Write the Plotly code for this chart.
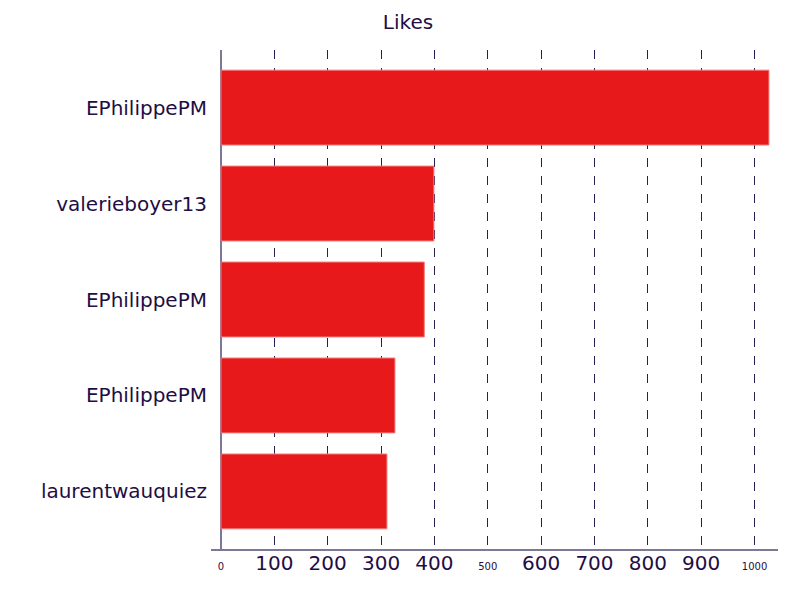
import plotly.graph_objects as go

names = ["EPhilippePM", "valerieboyer13", "EPhilippePM", "EPhilippePM", "laurentwauquiez"]
likes = [1027, 399, 381, 326, 311]
tick_values = [0, 100, 200, 300, 400, 500, 600, 700, 800, 900, 1000]
small_ticks = {0, 500, 1000}

positions = list(range(len(names)))
tick_text = [
    f"<span style='font-size:10px'>{v}</span>" if v in small_ticks else str(v)
    for v in tick_values
]

text_color = "#1f0d45"
axis_color = "#7d7896"

fig = go.Figure(
    go.Bar(
        x=likes,
        y=positions,
        orientation="h",
        width=0.78,
        marker=dict(color="#e8191a", line=dict(color="#f07a7a", width=1)),
        hoverinfo="x",
    )
)

fig.update_layout(
    width=800,
    height=600,
    paper_bgcolor="white",
    plot_bgcolor="white",
    margin=dict(l=203, r=30, t=42, b=59),
    font=dict(family="DejaVu Sans", color=text_color, size=20),
    title=dict(text="Likes", x=0.5, xanchor="center", y=0.9767, yanchor="middle",
               font=dict(size=20, color=text_color)),
    showlegend=False,
)

fig.update_xaxes(
    range=[-18.75, 1044],
    tickvals=tick_values,
    ticktext=tick_text,
    showgrid=True,
    gridcolor="#2a1f50",
    griddash="dash",
    gridwidth=1,
    zeroline=True,
    zerolinecolor=axis_color,
    zerolinewidth=1.5,
    showline=True,
    linecolor=axis_color,
    linewidth=1.5,
    ticks="",
    ticklabelstandoff=-5,
    tickfont=dict(size=20, color=text_color),
)

fig.update_yaxes(
    range=[4.6, -0.6],
    tickvals=positions,
    ticktext=names,
    showgrid=False,
    zeroline=False,
    showline=False,
    ticks="",
    ticklabelstandoff=3,
    tickfont=dict(size=20, color=text_color),
)

fig.write_html("out.html")
